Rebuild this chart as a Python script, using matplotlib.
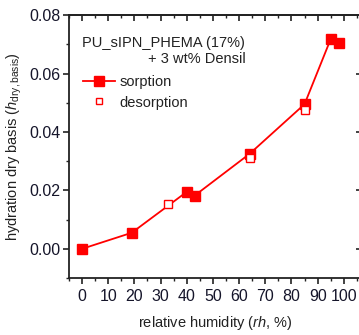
import matplotlib
matplotlib.use("Agg")
import matplotlib.pyplot as plt
from matplotlib.ticker import MultipleLocator, NullFormatter
from matplotlib.lines import Line2D

plt.rcParams['font.family'] = ['Liberation Sans', 'DejaVu Sans']
plt.rcParams['mathtext.fontset'] = 'custom'
plt.rcParams['mathtext.rm'] = 'Liberation Sans'
plt.rcParams['mathtext.it'] = 'Liberation Sans:italic'

# relative humidity (%) and hydration on dry basis
rh_sorption = [0, 19, 40, 43, 64, 85, 95, 98]
h_sorption = [0.0000, 0.0055, 0.0195, 0.0182, 0.0325, 0.0495, 0.0718, 0.0705]
rh_desorption = [33, 64, 85]
h_desorption = [0.0152, 0.0312, 0.0475]

xticks = [0, 10, 20, 30, 40, 50, 60, 70, 80, 90, 100]
yticks = [0.00, 0.02, 0.04, 0.06, 0.08]

red = '#ff0000'
ink = '#15152a'
axc = '#222222'

fig = plt.figure(figsize=(3.59, 3.35), dpi=100)
ax = fig.add_axes([0.192, 0.170, 0.816, 0.785])

ax.plot(rh_sorption, h_sorption, color=red, lw=1.3, marker='s', ms=6.5,
        mfc=red, mec=red, zorder=3)
ax.plot(rh_desorption, h_desorption, ls='none', marker='s', ms=5.5,
        mfc='white', mec=red, mew=1.0, zorder=4)

ax.set_xlim(-5, 106.9)
ax.set_ylim(-0.01, 0.08)
ax.set_xticks(xticks)
ax.set_yticks(yticks)
ax.set_yticklabels([f"{v:.2f}" for v in yticks])
ax.xaxis.set_minor_locator(MultipleLocator(5))
ax.yaxis.set_minor_locator(MultipleLocator(0.01))

for s in ax.spines.values():
    s.set_linewidth(1.3)
    s.set_color(axc)

ax.tick_params(axis='both', which='major', direction='out', length=4, width=1.2,
               labelsize=11.5, labelcolor=ink, color=axc)
ax.tick_params(axis='both', which='minor', direction='out', length=2.5, width=1.0,
               color=axc)
ax.tick_params(axis='x', which='both', pad=4)
ax.tick_params(axis='y', which='both', pad=2)

# inward ticks on the top and right edges
top = ax.secondary_xaxis('top')
top.set_xticks(xticks)
top.xaxis.set_minor_locator(MultipleLocator(5))
top.xaxis.set_major_formatter(NullFormatter())
top.tick_params(which='major', direction='in', length=4, width=1.2, color=axc)
top.tick_params(which='minor', direction='in', length=2.5, width=1.0, color=axc)
top.spines['top'].set_linewidth(1.3)
top.spines['top'].set_color(axc)

right = ax.secondary_yaxis('right')
right.set_yticks(yticks)
right.yaxis.set_minor_locator(MultipleLocator(0.01))
right.yaxis.set_major_formatter(NullFormatter())
right.tick_params(which='major', direction='in', length=4, width=1.2, color=axc)
right.tick_params(which='minor', direction='in', length=2.5, width=1.0, color=axc)

ax.set_xlabel("relative humidity ($\\it{rh}$, %)", fontsize=10.5, color=axc, labelpad=7)
ax.set_ylabel("hydration dry basis ($h_{\\rm dry,basis}$)", fontsize=10.5,
              color=axc, labelpad=4)

ax.text(0.0, 0.0706, "PU_sIPN_PHEMA (17%)", fontsize=10.5, color=axc,
        ha='left', va='center')
ax.text(62.5, 0.0650, "+ 3 wt% Densil", fontsize=10.5, color=axc,
        ha='right', va='center')

handles = [
    Line2D([], [], color=red, lw=1.3, marker='s', ms=6.5, mfc=red, mec=red),
    Line2D([], [], ls='none', marker='s', ms=4.5, mfc='white', mec=red, mew=1.0),
]
leg = ax.legend(handles, ["sorption", "desorption"], loc='upper left',
                bbox_to_anchor=(0.048, 0.772), frameon=False, fontsize=10.5,
                handlelength=2.2, handletextpad=0.3, labelspacing=0.45,
                borderaxespad=0.0, borderpad=0.0)
for t in leg.get_texts():
    t.set_color(axc)

fig.savefig("out.png", dpi=100)
